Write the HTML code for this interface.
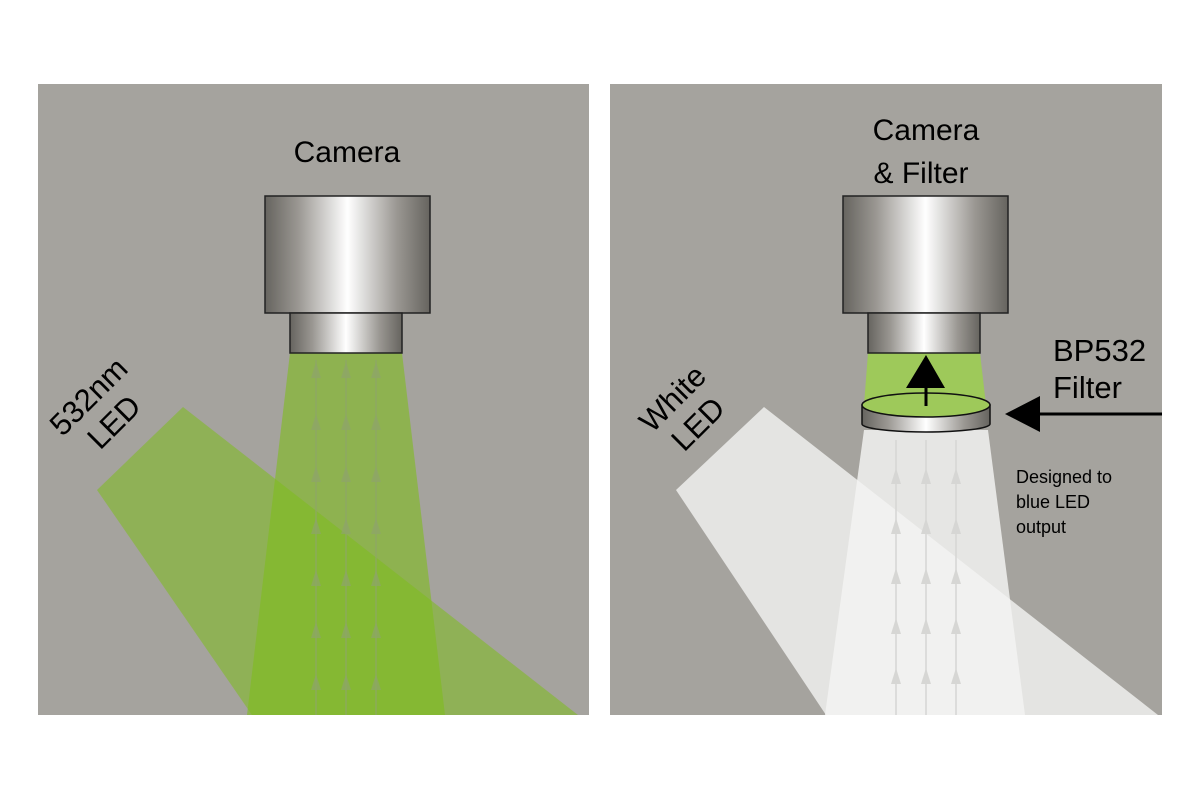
<!DOCTYPE html>
<html><head><meta charset="utf-8"><style>
body{margin:0;background:#fff}
svg{display:block}
text{font-family:"Liberation Sans",sans-serif;fill:#000}
</style></head><body>
<svg width="1200" height="800" viewBox="0 0 1200 800" xmlns="http://www.w3.org/2000/svg">
<defs>
<linearGradient id="m" x1="0" x2="1" y1="0" y2="0">
<stop offset="0" stop-color="#66645f"/>
<stop offset="0.2" stop-color="#9a9792"/>
<stop offset="0.5" stop-color="#ffffff"/>
<stop offset="0.8" stop-color="#9a9792"/>
<stop offset="1" stop-color="#66645f"/>
</linearGradient>
</defs>
<rect width="1200" height="800" fill="#fff"/>
<!-- Left panel -->
<rect x="38" y="84" width="551" height="631" fill="#a5a39e"/>
<polygon points="290,353 402,353 445,715 247,715" fill="#7ebd1c" opacity="0.6"/>
<polygon points="97,490 183,407 578,715 252,715" fill="#7ebd1c" opacity="0.55"/>
<g stroke="#8ea56a" stroke-width="1.5" opacity="0.7">
<line x1="316" y1="360" x2="316" y2="715"/><line x1="346" y1="360" x2="346" y2="715"/><line x1="376" y1="360" x2="376" y2="715"/>
</g>
<g fill="#8ea56a" opacity="0.7">
<g id="arrL">
<polygon points="316,362 311,378 321,378"/><polygon points="346,362 341,378 351,378"/><polygon points="376,362 371,378 381,378"/>
</g>
<use href="#arrL" y="52"/><use href="#arrL" y="104"/><use href="#arrL" y="156"/><use href="#arrL" y="208"/><use href="#arrL" y="260"/><use href="#arrL" y="312"/>
</g>
<rect x="265" y="196" width="165" height="117" fill="url(#m)" stroke="#222" stroke-width="1.5"/>
<rect x="290" y="313" width="112" height="40" fill="url(#m)" stroke="#222" stroke-width="1.5"/>
<text x="347" y="162" font-size="30" text-anchor="middle">Camera</text>
<g transform="translate(96,404) rotate(-45)"><text x="0" y="0" font-size="31" text-anchor="middle">532nm</text><text x="0" y="36" font-size="31" text-anchor="middle">LED</text></g>

<!-- Right panel -->
<rect x="610" y="84" width="552" height="631" fill="#a5a39e"/>
<polygon points="864,430 988,430 1025,715 825,715" fill="#f6f6f5" opacity="0.8"/>
<polygon points="676,490 764,407 1158,715 826,715" fill="#f4f4f3" opacity="0.8"/>
<polygon points="868,353 980,353 986,405 864,405" fill="#9ec95a"/>
<g stroke="#d6d6d4" stroke-width="1.5">
<line x1="896" y1="440" x2="896" y2="715"/><line x1="926" y1="440" x2="926" y2="715"/><line x1="956" y1="440" x2="956" y2="715"/>
</g>
<g fill="#d6d6d4">
<g id="arrR">
<polygon points="896,468 891,484 901,484"/><polygon points="926,468 921,484 931,484"/><polygon points="956,468 951,484 961,484"/>
</g>
<use href="#arrR" y="50"/><use href="#arrR" y="100"/><use href="#arrR" y="150"/><use href="#arrR" y="200"/>
</g>
<rect x="843" y="196" width="165" height="117" fill="url(#m)" stroke="#222" stroke-width="1.5"/>
<rect x="868" y="313" width="112" height="40" fill="url(#m)" stroke="#222" stroke-width="1.5"/>
<path d="M862,405 L862,424 A64,8 0 0 0 990,424 L990,405 Z" fill="url(#m)" stroke="#111" stroke-width="1.5"/>
<ellipse cx="926" cy="405" rx="64" ry="12" fill="#9ec95a" stroke="#111" stroke-width="1.5"/>
<line x1="926" y1="385" x2="926" y2="406" stroke="#000" stroke-width="3"/>
<polygon points="926,355 906,388 945,388" fill="#000"/>
<line x1="1036" y1="414" x2="1162" y2="414" stroke="#000" stroke-width="3"/>
<polygon points="1005,414 1040,396 1040,432" fill="#000"/>
<text x="926" y="140" font-size="30" text-anchor="middle">Camera</text>
<text x="921" y="183" font-size="30" text-anchor="middle">&amp; Filter</text>
<text x="1053" y="361" font-size="31">BP532</text>
<text x="1053" y="398" font-size="31">Filter</text>
<text x="1016" y="483" font-size="18">Designed to</text>
<text x="1016" y="508" font-size="18">blue LED</text>
<text x="1016" y="533" font-size="18">output</text>
<g transform="translate(680,406) rotate(-45)"><text x="0" y="0" font-size="31" text-anchor="middle">White</text><text x="0" y="36" font-size="31" text-anchor="middle">LED</text></g>
</svg>
</body></html>
